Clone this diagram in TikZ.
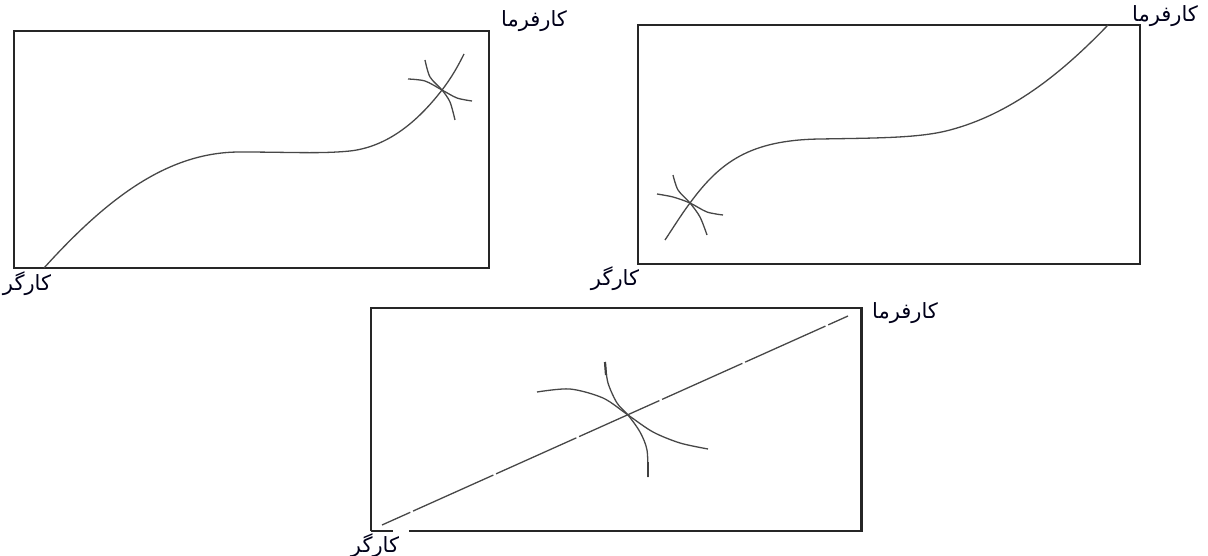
\documentclass[tikz,border=0pt]{standalone}
\usepackage{fontspec}
\newfontfamily\arabicfont[Script=Arabic]{DejaVu Sans}
\TeXXeTstate=1
\begin{document}
\begin{tikzpicture}[x=1pt,y=-1pt,
  frame/.style={draw=black!85,line width=1.2pt},
  curveline/.style={draw=black!72,line width=1.3pt},
  markarc/.style={draw=black!72,line width=1.3pt},
  lbl/.style={font=\arabicfont\fontsize{21}{25}\selectfont,text=black!90!blue,inner sep=0pt}]
\useasboundingbox (0,0) rectangle (1208,556);
% Box 1
\draw[frame] (14,31) rectangle (489,268);
\coordinate (c1s) at (44,268);
\coordinate (c1x) at (442,90);
\coordinate (c1e) at (464,54);
\draw[curveline] (c1s) .. controls (110,195) and (170,152) .. (240,152)
  .. controls (290,152) and (320,154) .. (350,151)
  .. controls (385,147) and (415,125) .. (c1x)
  .. controls (452,77) and (458,66) .. (c1e);
\draw[markarc] plot[smooth] coordinates {(408,79) (425,81) (442,90) (457,98) (472,101)};
\draw[markarc] plot[smooth] coordinates {(425,60) (430,77) (442,90) (450,102) (455,120)};
\node[lbl] (b1top) at (534,21) {\beginR کارفرما\endR};
\node[lbl] (b1bot) at (27,284) {\beginR کارگر\endR};
% Box 2
\draw[frame] (638,25) rectangle (1140,264);
\coordinate (c2s) at (665,240);
\coordinate (c2x) at (690,203);
\coordinate (c2e) at (1108,25);
\draw[curveline] (c2s) .. controls (673,228) and (681,215) .. (c2x)
  .. controls (720,162) and (750,140) .. (820,139)
  .. controls (880,138) and (920,138) .. (950,130)
  .. controls (1010,114) and (1060,75) .. (c2e);
\draw[markarc] plot[smooth] coordinates {(657,194) (673,197) (690,203) (707,212) (723,215)};
\draw[markarc] plot[smooth] coordinates {(673,175) (678,190) (690,203) (700,217) (707,235)};
\node[lbl] (b2top) at (1165,16) {\beginR کارفرما\endR};
\node[lbl] (b2bot) at (615,279) {\beginR کارگر\endR};
% Box 3
\draw[frame] (371,531) -- (371,308) -- (862,308);
\draw[frame] (371,531) -- (393,531);
\draw[frame] (409,531) -- (862,531);
\draw[draw=black!85,line width=3pt] (861,307) -- (861,532);
\coordinate (l3a) at (382,525);
\coordinate (l3b) at (848,316);
\draw[curveline,dash pattern=on 88pt off 3pt,dash phase=57pt] (l3a) -- (l3b);
\draw[markarc] plot[smooth] coordinates {(537,392) (570,389) (603,398) (628,415) (653,432) (680,443) (708,449)};
\draw[markarc] plot[smooth] coordinates {(605,362) (608,383) (617,403) (628,415) (640,432) (647,450) (648,477)};
\draw[black!75,line width=2.2pt] (605,362) -- (606,375);
\draw[black!75,line width=2.2pt] (648,462) -- (648,477);
\node[lbl] (b3top) at (905,313) {\beginR کارفرما\endR};
\node[lbl] (b3bot) at (375,546) {\beginR کارگر\endR};
\end{tikzpicture}
\end{document}
